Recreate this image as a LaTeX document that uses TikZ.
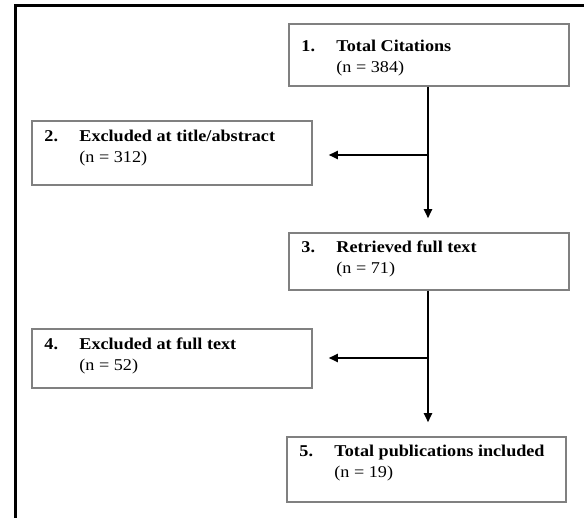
\documentclass[tikz,border=0pt]{standalone}
\usepackage{fontspec}
\setmainfont{Liberation Serif}[FakeStretch=1.1]
\usetikzlibrary{arrows.meta}
\definecolor{boxgray}{RGB}{128,128,128}
\tikzset{
  box/.style={draw=boxgray, line width=1.5pt, inner sep=0pt, fill=white},
  lbl/.style={inner sep=0pt, anchor=base west, font=\fontsize{16.5}{21}\selectfont},
  arr/.style={line width=2pt, -{Triangle[length=9pt,width=8pt]}},
  frame/.style={line width=3pt}
}
\newcommand{\boxtext}[3]{\begin{tabular}[t]{@{}p{35pt}@{}l@{}}\textbf{#1}&\textbf{#2}\\&#3\end{tabular}}
\begin{document}
\begin{tikzpicture}[x=1pt,y=-1pt]
\useasboundingbox (0,0) rectangle (584,518);
\draw[frame] (584,6) -- (15,6) -- (15,518);
% boxes
\node[box, minimum width=280pt, minimum height=62pt] (b1) at (429,55) {};
\node[box, minimum width=280pt, minimum height=64pt] (b2) at (172,153) {};
\node[box, minimum width=280pt, minimum height=57pt] (b3) at (429,261.5) {};
\node[box, minimum width=280pt, minimum height=59pt] (b4) at (172,358.5) {};
\node[box, minimum width=279pt, minimum height=65pt] (b5) at (426.5,469.5) {};
% texts
\node[lbl] (t1) at ([xshift=13pt,yshift=-28pt]b1.north west) {\boxtext{1.}{Total Citations}{(n = 384)}};
\node[lbl] (t2) at ([xshift=13pt,yshift=-21pt]b2.north west) {\boxtext{2.}{Excluded at title/abstract}{(n = 312)}};
\node[lbl] (t3) at ([xshift=13pt,yshift=-20pt]b3.north west) {\boxtext{3.}{Retrieved full text}{(n = 71)}};
\node[lbl] (t4) at ([xshift=13pt,yshift=-21pt]b4.north west) {\boxtext{4.}{Excluded at full text}{(n = 52)}};
\node[lbl] (t5) at ([xshift=13pt,yshift=-20pt]b5.north west) {\boxtext{5.}{Total publications included}{(n = 19)}};
% connectors
\coordinate (j1) at (428,155);
\coordinate (j2) at (428,358);
\draw[arr, shorten >=14pt] ([xshift=-1pt]b1.south) -- ([xshift=-1pt]b3.north);
\draw[arr, shorten >=16pt] (j1) -- (j1 -| b2.east);
\draw[arr, shorten >=14pt] ([xshift=-1pt]b3.south) -- ([xshift=-1pt]b3.south |- b5.north);
\draw[arr, shorten >=16pt] (j2) -- (j2 -| b4.east);
\end{tikzpicture}
\end{document}
